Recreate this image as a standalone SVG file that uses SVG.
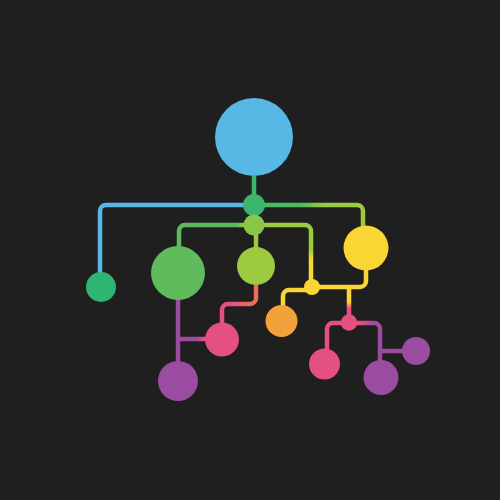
<svg xmlns="http://www.w3.org/2000/svg" width="500" height="500" viewBox="0 0 500 500">
<defs>
<style>
.c{fill:none;stroke-width:4.5;stroke-linejoin:round}
.blue{fill:#58b8e5}.green{fill:#5fbb5b}.teal{fill:#2eb574}.lime{fill:#9dca40}.yellow{fill:#f9d633}.orange{fill:#f3a23a}.pink{fill:#e4507f}.purple{fill:#9a4ca0}
</style>
<linearGradient id="gTopR" gradientUnits="userSpaceOnUse" x1="300" y1="0" x2="325" y2="0"><stop offset="0" stop-color="#4cb862"/><stop offset="1" stop-color="#9ccb3f"/></linearGradient>
<linearGradient id="gMidR" gradientUnits="userSpaceOnUse" x1="0" y1="250" x2="0" y2="260"><stop offset="0" stop-color="#9ccb3f"/><stop offset="1" stop-color="#f9d633"/></linearGradient>
<linearGradient id="gMidL" gradientUnits="userSpaceOnUse" x1="242" y1="0" x2="236" y2="0"><stop offset="0" stop-color="#8bc646"/><stop offset="1" stop-color="#5cba5c"/></linearGradient>
<linearGradient id="gLime" gradientUnits="userSpaceOnUse" x1="250" y1="0" x2="232" y2="0"><stop offset="0" stop-color="#ee6c5a"/><stop offset="1" stop-color="#e4507f"/></linearGradient>
<linearGradient id="gBr" gradientUnits="userSpaceOnUse" x1="196" y1="0" x2="204" y2="0"><stop offset="0" stop-color="#9a4ca0"/><stop offset="1" stop-color="#e4507f"/></linearGradient>
<linearGradient id="gYP" gradientUnits="userSpaceOnUse" x1="0" y1="302" x2="0" y2="308"><stop offset="0" stop-color="#f9d633"/><stop offset="1" stop-color="#e4507f"/></linearGradient>
<linearGradient id="gPP" gradientUnits="userSpaceOnUse" x1="360" y1="0" x2="374" y2="0"><stop offset="0" stop-color="#e4507f"/><stop offset="1" stop-color="#9a4ca0"/></linearGradient>
</defs>
<rect width="500" height="500" fill="#1f1f1f"/>
<g id="connectors">
<path class="c" stroke="#3cb46e" d="M254 176 V205"/>
<path class="c" stroke="#58b8e5" d="M254 205 H106 A6 6 0 0 0 100 211 V274"/>
<path class="c" stroke="url(#gTopR)" d="M254 205 H357 A6 6 0 0 1 363 211 V227"/>
<path class="c" stroke="url(#gMidL)" d="M254 225 H185 A6 6 0 0 0 179 231 V247"/>
<path class="c" stroke="url(#gMidR)" d="M254 225 H305 A6 6 0 0 1 311 231 V287"/>
<path class="c" stroke="#9dca40" d="M256 225 V248"/>
<path class="c" stroke="url(#gLime)" d="M256 284 V298 A6 6 0 0 1 250 304 H228 A6 6 0 0 0 222 310 V323"/>
<path class="c" stroke="#9a4ca0" d="M178 299 V362"/>
<path class="c" stroke="url(#gBr)" d="M178 339 H206"/>
<path class="c" stroke="#f9d633" d="M312 290 H289 A6 6 0 0 0 283 296 V306"/>
<path class="c" stroke="#f9d633" d="M366 269 V281 A6 6 0 0 1 360 287 H312"/>
<path class="c" stroke="url(#gYP)" d="M349 287 V316"/>
<path class="c" stroke="#e4507f" d="M349 323 H333 A6 6 0 0 0 327 329 V349"/>
<path class="c" stroke="url(#gPP)" d="M349 323 H374 A6 6 0 0 1 380 329 V361"/>
<path class="c" stroke="#9a4ca0" d="M380 351 H403"/>
</g>
<g id="root"><circle class="blue" cx="254" cy="137" r="39"/></g>
<g id="junction-top"><circle cx="254" cy="205" r="11" fill="#3cb46e"/></g>
<g id="junction-mid"><circle cx="254" cy="225" r="10.5" fill="#8bc646"/></g>
<g id="node-left"><circle class="teal" cx="101" cy="287" r="15"/></g>
<g id="node-green"><circle class="green" cx="178" cy="273" r="27"/></g>
<g id="node-lime"><circle class="lime" cx="256" cy="266" r="19"/></g>
<g id="node-yellow"><circle class="yellow" cx="366" cy="248" r="22.5"/></g>
<g id="junction-yellow"><circle class="yellow" cx="312" cy="287" r="8"/></g>
<g id="node-orange"><circle class="orange" cx="281.5" cy="321" r="16"/></g>
<g id="node-pink-left"><circle class="pink" cx="222" cy="339.5" r="17"/></g>
<g id="node-purple-left"><circle class="purple" cx="178" cy="381" r="20"/></g>
<g id="junction-pink"><circle class="pink" cx="349" cy="322.5" r="8.3"/></g>
<g id="node-pink-right"><circle class="pink" cx="324.5" cy="364" r="15.5"/></g>
<g id="node-purple-mid"><circle class="purple" cx="381" cy="377.5" r="17.5"/></g>
<g id="node-purple-right"><circle class="purple" cx="416" cy="351" r="14"/></g>
</svg>
